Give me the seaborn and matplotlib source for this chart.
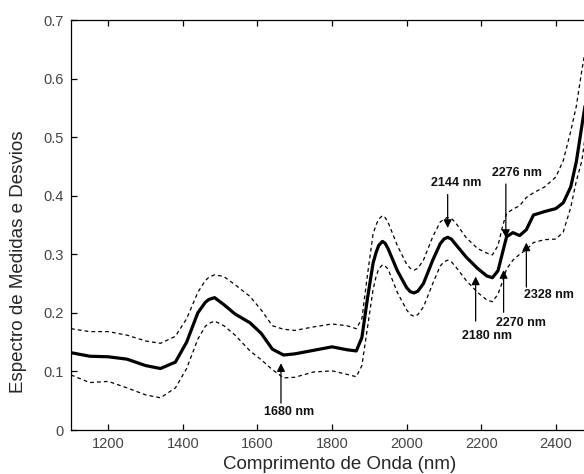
import matplotlib
matplotlib.use('Agg')
import matplotlib.pyplot as plt
import seaborn as sns
import pandas as pd

# wavelength grid (nm) and spectra
wavelength = [1100, 1150, 1200, 1250, 1300, 1340, 1380, 1410, 1440, 1460, 1470, 1485, 1510,
              1540, 1580, 1610, 1640, 1670, 1700, 1750, 1800, 1840, 1865, 1880, 1895,
              1910, 1918, 1925, 1935, 1942, 1950, 1975, 2000, 2010, 2020, 2030, 2045, 2070,
              2090, 2100, 2110, 2120, 2130, 2160, 2190, 2215, 2230, 2245, 2258, 2268, 2285,
              2303, 2321, 2340, 2370, 2400, 2420, 2440, 2455, 2470, 2485, 2500]
mean_spec = [0.132, 0.126, 0.125, 0.121, 0.110, 0.105, 0.116, 0.150, 0.200, 0.218, 0.223, 0.226, 0.214,
             0.198, 0.183, 0.165, 0.138, 0.128, 0.130, 0.136, 0.142, 0.137, 0.135, 0.158, 0.225,
             0.285, 0.303, 0.315, 0.322, 0.319, 0.310, 0.272, 0.243, 0.236, 0.234, 0.237, 0.250, 0.290,
             0.318, 0.326, 0.329, 0.326, 0.318, 0.295, 0.276, 0.263, 0.260, 0.272, 0.305, 0.330, 0.337,
             0.332, 0.342, 0.367, 0.373, 0.378, 0.388, 0.415, 0.458, 0.520, 0.580, 0.640]
upper_spec = [0.173, 0.168, 0.168, 0.162, 0.152, 0.148, 0.160, 0.190, 0.235, 0.255, 0.261, 0.265, 0.262,
              0.248, 0.228, 0.205, 0.178, 0.172, 0.170, 0.176, 0.181, 0.178, 0.173, 0.190, 0.265,
              0.335, 0.350, 0.360, 0.366, 0.363, 0.355, 0.315, 0.283, 0.276, 0.273, 0.276, 0.290, 0.330,
              0.355, 0.360, 0.363, 0.361, 0.355, 0.328, 0.310, 0.302, 0.299, 0.315, 0.350, 0.370, 0.377,
              0.383, 0.397, 0.405, 0.415, 0.432, 0.460, 0.510, 0.553, 0.615, 0.670, 0.720]
lower_spec = [0.094, 0.081, 0.083, 0.072, 0.060, 0.055, 0.072, 0.105, 0.155, 0.177, 0.182, 0.186, 0.178,
              0.162, 0.135, 0.120, 0.103, 0.089, 0.090, 0.099, 0.101, 0.095, 0.091, 0.110, 0.175,
              0.240, 0.262, 0.275, 0.282, 0.280, 0.275, 0.235, 0.205, 0.197, 0.194, 0.197, 0.210, 0.250,
              0.280, 0.287, 0.290, 0.287, 0.280, 0.255, 0.235, 0.222, 0.219, 0.232, 0.255, 0.275, 0.290,
              0.300, 0.308, 0.320, 0.325, 0.326, 0.338, 0.380, 0.425, 0.460, 0.530, 0.580]

# band labels: (text, arrow tip x, arrow tip y)
band_labels = ['1680 nm', '2144 nm', '2276 nm', '2180 nm', '2270 nm', '2328 nm']
band_tips = [(1663, 0.114), (2110, 0.345), (2266, 0.328), (2185, 0.262), (2260, 0.273), (2321, 0.320)]
# where the text sits and where the arrow starts
text_pos = [(1686, 0.030), (2134, 0.422), (2295, 0.439), (2215, 0.161), (2306, 0.183), (2382, 0.231)]
tail_pos = [(1663, 0.046), (2110, 0.402), (2266, 0.420), (2185, 0.186), (2260, 0.201), (2321, 0.244)]

df = pd.DataFrame({'wavelength': wavelength, 'mean': mean_spec,
                   'upper': upper_spec, 'lower': lower_spec})

sns.set_style('ticks')
plt.rcParams['font.family'] = ['Liberation Sans', 'DejaVu Sans']
plt.rcParams['xtick.direction'] = 'in'
plt.rcParams['ytick.direction'] = 'in'

fig = plt.figure(figsize=(5.84, 4.74), dpi=100)
ax = fig.add_axes([0.1216, 0.0928, 0.894, 0.865])

sns.lineplot(data=df, x='wavelength', y='upper', ax=ax, color='black', lw=0.9,
             linestyle=(0, (3, 2.5)))
sns.lineplot(data=df, x='wavelength', y='lower', ax=ax, color='black', lw=0.9,
             linestyle=(0, (3, 2.5)))
sns.lineplot(data=df, x='wavelength', y='mean', ax=ax, color='black', lw=2.3)

for label, tip, txt, tail in zip(band_labels, band_tips, text_pos, tail_pos):
    ax.annotate('', xy=tip, xytext=tail,
                arrowprops=dict(arrowstyle='-|>', color='black', lw=0.9, mutation_scale=12,
                                shrinkA=0, shrinkB=0))
    ax.text(txt[0], txt[1], label, ha='center', va='center', fontsize=9,
            fontweight='bold', color='#111111')

ax.set_xlim(1100, 2500)
ax.set_ylim(0, 0.7)
ax.set_xticks([1200, 1400, 1600, 1800, 2000, 2200, 2400])
ax.set_yticks([0, 0.1, 0.2, 0.3, 0.4, 0.5, 0.6, 0.7])
ax.set_yticklabels(['0', '0.1', '0.2', '0.3', '0.4', '0.5', '0.6', '0.7'])
ax.tick_params(top=True, right=True, length=4, width=0.9, labelsize=10.5, colors='black',
               labelcolor='#444444', pad=5)
for s in ax.spines.values():
    s.set_linewidth(0.9)
    s.set_color('black')

ax.set_xlabel('Comprimento de Onda (nm)', fontsize=13.5)
ax.set_ylabel('Espectro de Medidas e Desvios', fontsize=13.5)
ax.xaxis.set_label_coords(0.515, -0.063)
ax.yaxis.set_label_coords(-0.084, 0.41)

fig.savefig('out.png', dpi=100)
